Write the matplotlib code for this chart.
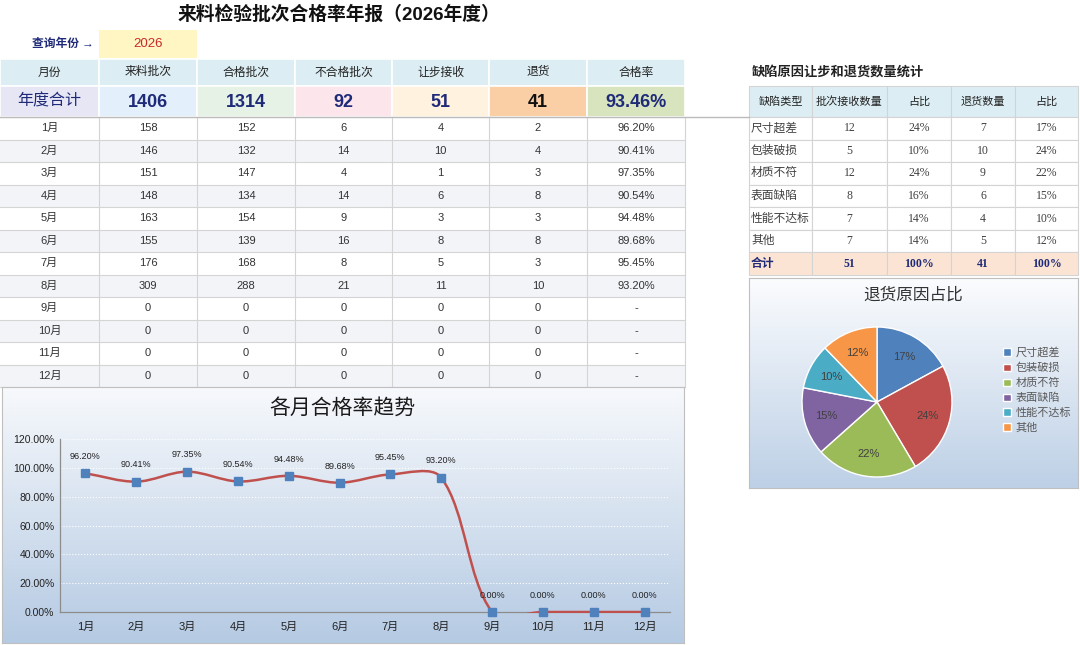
import numpy as np
import matplotlib.pyplot as plt
from matplotlib.patches import Rectangle, PathPatch
from matplotlib.path import Path
from matplotlib.colors import LinearSegmentedColormap

plt.rcParams['font.family'] = ['Liberation Sans', 'Noto Sans CJK SC', 'DejaVu Sans']
SERIF = ['Liberation Serif', 'Noto Sans CJK SC', 'DejaVu Sans']

# ---- data ----
year = 2026
months = [f'{i}月' for i in range(1, 13)]
incoming = [158, 146, 151, 148, 163, 155, 176, 309, 0, 0, 0, 0]
passed = [152, 132, 147, 134, 154, 139, 168, 288, 0, 0, 0, 0]
failed = [6, 14, 4, 14, 9, 16, 8, 21, 0, 0, 0, 0]
concession = [4, 10, 1, 6, 3, 8, 5, 11, 0, 0, 0, 0]
returned = [2, 4, 3, 8, 3, 8, 3, 10, 0, 0, 0, 0]
main_headers = ['月份', '来料批次', '合格批次', '不合格批次', '让步接收', '退货', '合格率']
# annual totals as shown on the sheet
annual_totals = [1406, 1314, 92, 51, 41]
annual_rate = 0.9346

defects = ['尺寸超差', '包装破损', '材质不符', '表面缺陷', '性能不达标', '其他']
defect_concession = [12, 5, 12, 8, 7, 7]
defect_return = [7, 10, 9, 6, 4, 5]
side_headers = ['缺陷类型', '批次接收数量', '占比', '退货数量', '占比']

rates = [p / n if n else 0.0 for p, n in zip(passed, incoming)]

W, H = 1080, 645
fig = plt.figure(figsize=(W / 100, H / 100), dpi=100)
fig.patch.set_facecolor('white')


def px_axes(x0, y0, x1, y1, **kw):
    return fig.add_axes([x0 / W, 1 - y1 / H, (x1 - x0) / W, (y1 - y0) / H], **kw)


base = px_axes(0, 0, W, H)
base.set_xlim(0, W)
base.set_ylim(H, 0)
base.axis('off')

grid_c = '#D4D4D4'
navy = '#1F2A78'
txt = '#333333'

# ---- title & query ----
base.text(339, 15, f'来料检验批次合格率年报（{year}年度）', ha='center', va='center',
          fontsize=13.5, fontweight='bold', color='#111111')
base.text(63, 44, '查询年份 →', ha='center', va='center', fontsize=8.5, color=navy,
          fontweight='bold', family=SERIF)
base.add_patch(Rectangle((99, 30), 98, 28, facecolor='#FFF6C4', edgecolor='none'))
base.text(148, 44, str(year), ha='center', va='center', fontsize=9.5, color='#C8282D')

# ---- main table ----
col_x = [0, 99, 197, 295, 392, 489, 587, 685]
centers = [(a + b) / 2 for a, b in zip(col_x[:-1], col_x[1:])]
hdr_top, hdr_bot, tot_bot = 59, 86, 117
row_h = (387 - tot_bot) / 12

for i, h in enumerate(main_headers):
    base.add_patch(Rectangle((col_x[i], hdr_top), col_x[i + 1] - col_x[i], hdr_bot - hdr_top,
                             facecolor='#DCEEF4', edgecolor='white', lw=1.2))
    base.text(centers[i], (hdr_top + hdr_bot) / 2, h, ha='center', va='center',
              fontsize=8.5, color='#222222', family=SERIF)

tot_labels = ['年度合计'] + [str(v) for v in annual_totals] + [f'{annual_rate * 100:.2f}%']
tot_fill = ['#E6E6F5', '#E3F0FB', '#E5F2E5', '#FCE6EC', '#FFF2DE', '#FBCFA6', '#D8E4BE']
for i, lab in enumerate(tot_labels):
    base.add_patch(Rectangle((col_x[i], hdr_bot), col_x[i + 1] - col_x[i], tot_bot - hdr_bot,
                             facecolor=tot_fill[i], edgecolor='white', lw=1.2))
    if i == 0:
        base.text(centers[i], (hdr_bot + tot_bot) / 2, lab, ha='center', va='center',
                  fontsize=11.5, color=navy, family=SERIF)
    else:
        base.text(centers[i], (hdr_bot + tot_bot) / 2 + 1, lab, ha='center', va='center',
                  fontsize=13, fontweight='bold', color='#111111' if i == 5 else navy)

for r in range(12):
    y0 = tot_bot + r * row_h
    base.add_patch(Rectangle((0, y0), col_x[-1], row_h,
                             facecolor='white' if r % 2 == 0 else '#F3F4F8',
                             edgecolor='none'))
    vals = [months[r], incoming[r], passed[r], failed[r], concession[r], returned[r],
            f'{rates[r] * 100:.2f}%' if incoming[r] else '-']
    for i, v in enumerate(vals):
        base.text(centers[i], y0 + row_h / 2, str(v), ha='center', va='center',
                  fontsize=8, color=txt)
    base.plot([0, col_x[-1]], [y0 + row_h, y0 + row_h], color=grid_c, lw=0.8)
for x in col_x[1:]:
    base.plot([x, x], [tot_bot, 387], color=grid_c, lw=0.8)
base.plot([0, 749], [tot_bot, tot_bot], color='#BBBBBB', lw=1)

# ---- side table ----
sx = [749, 812, 887, 951, 1015, 1078]
scent = [(a + b) / 2 for a, b in zip(sx[:-1], sx[1:])]
base.text(752, 72, '缺陷原因让步和退货数量统计', ha='left', va='center', fontsize=9.5,
          color='#222222', fontweight='bold')
srow = (275 - 117) / 7
for i, h in enumerate(side_headers):
    base.add_patch(Rectangle((sx[i], 86), sx[i + 1] - sx[i], 117 - 86,
                             facecolor='#DCEEF4', edgecolor=grid_c, lw=0.8))
    base.text(scent[i], 101.5, h, ha='center', va='center', fontsize=8,
              color='#222222', family=SERIF)
sum_c, sum_r = sum(defect_concession), sum(defect_return)
rows = []
for k, d in enumerate(defects):
    rows.append([d, str(defect_concession[k]), f'{defect_concession[k] / sum_c * 100:.0f}%',
                 str(defect_return[k]), f'{defect_return[k] / sum_r * 100:.0f}%'])
rows.append(['合计', str(sum_c), '100%', str(sum_r), '100%'])
for r, vals in enumerate(rows):
    y0 = 117 + r * srow
    last = r == len(rows) - 1
    for i, v in enumerate(vals):
        base.add_patch(Rectangle((sx[i], y0), sx[i + 1] - sx[i], srow,
                                 facecolor='#FCE4D4' if last else 'white',
                                 edgecolor=grid_c, lw=0.8))
        kw = dict(va='center', fontsize=8.5, family=SERIF,
                  color=navy if last else '#404040',
                  fontweight='bold' if last else 'normal')
        if i == 0:
            base.text(sx[0] + 2, y0 + srow / 2, v, ha='left', **kw)
        else:
            base.text(scent[i], y0 + srow / 2, v, ha='center', **kw)


# ---- gradient panels ----
def gradient_panel(x0, y0, x1, y1, top, bottom):
    a = px_axes(x0, y0, x1, y1)
    cmap = LinearSegmentedColormap.from_list('g', [top, bottom])
    a.imshow(np.linspace(0, 1, 256).reshape(-1, 1), cmap=cmap, aspect='auto',
             extent=[0, 1, 0, 1])
    a.set_xticks([])
    a.set_yticks([])
    for s in a.spines.values():
        s.set_color('#BFBFBF')
        s.set_linewidth(0.8)
    return a


gradient_panel(2, 387, 684, 643, '#F7F9FC', '#B5CAE3')
gradient_panel(749, 278, 1078, 488, '#FBFCFE', '#BDD0E6')

# ---- line chart ----
fig.text(342 / W, 1 - 408 / H, '各月合格率趋势', ha='center', va='center', fontsize=15,
         color='#1A1A1A')
ax = px_axes(60, 439, 670, 612)
ax.set_facecolor('none')
xs = np.arange(1, 13)
ys = np.array(rates)
ax.set_xlim(0.5, 12.5)
ax.set_ylim(0, 1.2)
ax.set_yticks(np.arange(0, 1.21, 0.2))
ax.set_yticklabels([f'{v * 100:.2f}%' for v in np.arange(0, 1.21, 0.2)])
ax.set_xticks(xs)
ax.set_xticklabels(months)
ax.tick_params(axis='y', length=0, pad=4, labelsize=7.5, labelcolor='#222222')
ax.tick_params(axis='x', length=0, pad=7, labelsize=8, labelcolor='#222222')
for s in ['top', 'right']:
    ax.spines[s].set_visible(False)
for s in ['left', 'bottom']:
    ax.spines[s].set_color('#8C8C8C')
    ax.spines[s].set_linewidth(0.9)
ax.grid(axis='y', color='white', linestyle=':', lw=0.8)
ax.set_axisbelow(True)

# smoothed line: bezier with tangents weighted by on-screen segment length
sx_px, sy_px = 610 / 12, 173 / 1.2
pts = np.column_stack([xs, ys]).astype(float)
ext = np.vstack([pts[0], pts, pts[-1]])
scr = ext * [sx_px, sy_px]
seg = np.linalg.norm(np.diff(scr, axis=0), axis=1)


def ctrl(i, out):
    # i indexes ext (1..n)
    t = ext[i + 1] - ext[i - 1]
    d_in, d_out = seg[i - 1], seg[i]
    tot = d_in + d_out
    if tot == 0:
        return ext[i]
    if out:
        return ext[i] + t * (d_out / tot) / 3
    return ext[i] - t * (d_in / tot) / 3


verts = [tuple(pts[0])]
codes = [Path.MOVETO]
for k in range(1, len(pts)):
    verts += [tuple(ctrl(k, True)), tuple(ctrl(k + 1, False)), tuple(ext[k + 1])]
    codes += [Path.CURVE4] * 3
line = ax.add_patch(PathPatch(Path(verts, codes), facecolor='none', edgecolor='#C0504D',
                              lw=1.8, zorder=3))
clip = Rectangle((-0.05, -0.006), 1.1, 1.1, transform=ax.transAxes, facecolor='none',
                 edgecolor='none')
line.set_clip_path(clip)
ax.plot(xs, ys, 's', color='#4F81BD', ms=6, clip_on=False, zorder=4)
for x, y in zip(xs, ys):
    ax.annotate(f'{y * 100:.2f}%', (x, y), xytext=(0, 12), textcoords='offset points',
                ha='center', va='center', fontsize=6.5, color='#222222')

# ---- pie chart ----
fig.text(913 / W, 1 - 295 / H, '退货原因占比', ha='center', va='center', fontsize=12,
         color='#333333')
pa = px_axes(802, 327, 952, 477)
pie_colors = ['#4F81BD', '#C0504D', '#9BBB59', '#8064A2', '#4BACC6', '#F79646']
wedges, _, autotexts = pa.pie(defect_return, colors=pie_colors, startangle=90,
                              counterclock=False, autopct='%1.0f%%', pctdistance=0.7,
                              wedgeprops=dict(edgecolor='white', linewidth=1),
                              textprops=dict(fontsize=8, color='#404040'))
pa.set_xlim(-1, 1)
pa.set_ylim(-1, 1)
pa.set_aspect('equal')
pa.legend(wedges, defects, loc='upper left',
          bbox_to_anchor=((999 - 802) / 150, 1 + (327 - 343) / 150),
          frameon=False, handlelength=0.7, handleheight=0.7,
          handletextpad=0.4, labelspacing=0.42, borderaxespad=0, labelcolor='#595959',
          prop=dict(family=SERIF, size=8))

fig.savefig('out.png', dpi=100)
